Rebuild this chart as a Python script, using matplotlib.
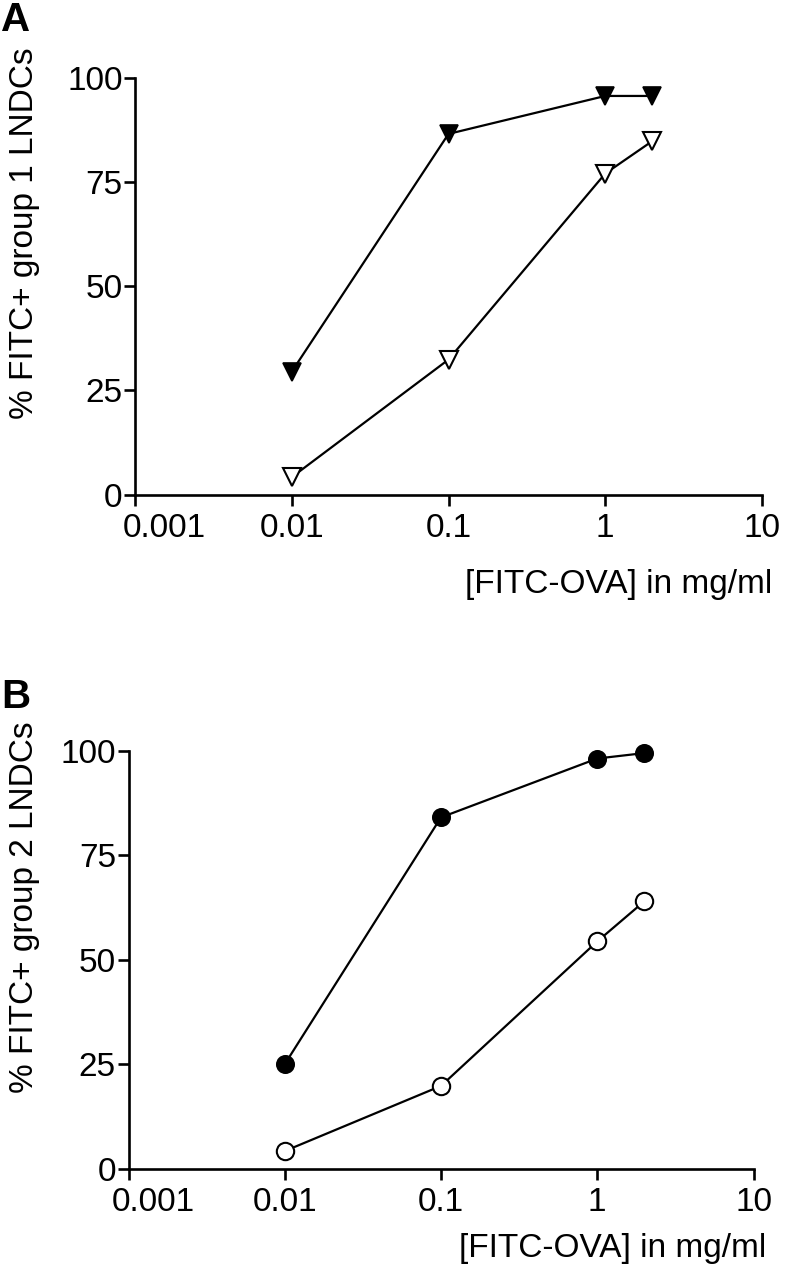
import matplotlib
matplotlib.use("Agg")
import matplotlib.pyplot as plt
from matplotlib.transforms import ScaledTranslation

plt.rcParams['font.family'] = ['Liberation Sans', 'DejaVu Sans']

# Data
conc = [0.01, 0.1, 1, 2]
a_filled = [29.5, 86.5, 95.6, 95.6]
a_open = [4.2, 32.4, 77.0, 84.8]
b_filled = [25.0, 84.1, 98.2, 99.5]
b_open = [4.2, 19.8, 54.4, 64.0]

xticks = [0.001, 0.01, 0.1, 1, 10]
xticklabels = ["0.001", "0.01", "0.1", "1", "10"]
yticks = [0, 25, 50, 75, 100]
yticklabels = ["0", "25", "50", "75", "100"]

W, H = 786, 1280
fig = plt.figure(figsize=(W / 100, H / 100), dpi=100)

def add_panel(rect, filled, opened, marker, ms, ylabel, ylab_pos, xlab_pos, letter, letter_pos, first_shift):
    ax = fig.add_axes(rect)
    ax.plot(conc, filled, color='black', lw=1.6, marker=marker, ms=ms,
            mfc='black', mec='black', mew=1.2, zorder=3, clip_on=False)
    ax.plot(conc, opened, color='black', lw=1.6, marker=marker, ms=ms,
            mfc='white', mec='black', mew=1.5, zorder=3, clip_on=False)
    ax.set_xscale('log')
    ax.set_xlim(0.001, 10)
    ax.set_ylim(0, 100)
    ax.set_xticks(xticks)
    ax.set_xticklabels(xticklabels)
    ax.minorticks_off()
    ax.set_yticks(yticks)
    ax.set_yticklabels(yticklabels)
    for s in ['top', 'right']:
        ax.spines[s].set_visible(False)
    for s in ['left', 'bottom']:
        ax.spines[s].set_linewidth(1.9)
    ax.tick_params(axis='both', direction='out', length=8, width=1.9, labelsize=24)
    ax.tick_params(axis='x', pad=5)
    ax.tick_params(axis='y', pad=1)
    lab = ax.get_xticklabels()[0]
    lab.set_transform(lab.get_transform() + ScaledTranslation(first_shift / 100, 0, fig.dpi_scale_trans))
    fig.text(ylab_pos[0] / W, 1 - ylab_pos[1] / H, ylabel, rotation=90,
             ha='center', va='center', fontsize=24)
    fig.text(xlab_pos[0] / W, 1 - xlab_pos[1] / H, "[FITC-OVA] in mg/ml",
             ha='right', va='center', fontsize=24)
    fig.text(letter_pos[0] / W, 1 - letter_pos[1] / H, letter, ha='left', va='center',
             fontsize=29, fontweight='bold')
    return ax

add_panel([135 / W, 1 - 494.7 / H, (762 - 135) / W, (494.7 - 77.6) / H],
          a_filled, a_open, 'v', 13.5, "% FITC+ group 1 LNDCs",
          (25, 233), (772, 585), "A", (1, 20), 29)
add_panel([128.5 / W, 1 - 1168.6 / H, (753.5 - 128.5) / W, (1168.6 - 751) / H],
          b_filled, b_open, 'o', 12.5, "% FITC+ group 2 LNDCs",
          (25, 907), (766, 1249), "B", (1, 697), 25)

fig.savefig("out.png", dpi=100, facecolor='white')
